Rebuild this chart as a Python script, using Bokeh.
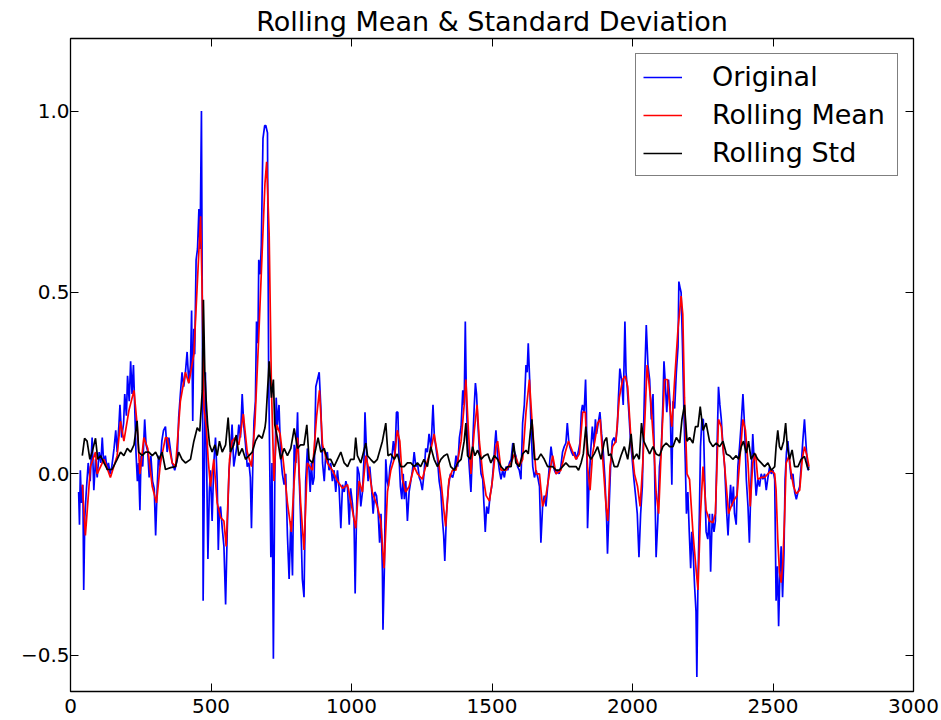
from bokeh.plotting import figure
from bokeh.models import Range1d, LinearAxis, FixedTicker, Legend, LegendItem
from bokeh.embed import file_html
from bokeh.resources import INLINE

# ---------------- data ----------------
orig_x = [29, 32, 35, 39, 44, 47, 51, 56, 63, 70, 77, 83, 89, 95, 102, 108, 113, 118, 124, 131,
          135, 141, 147, 155, 161, 166, 172, 176, 182, 189, 193, 199, 203, 209, 214, 219, 224, 228, 233, 238,
          242, 247, 251, 257, 264, 269, 275, 280, 286, 292, 298, 303, 308, 313, 319, 325, 331,
          338, 344, 350, 362, 371, 380, 385, 391, 397, 403, 409, 415, 421, 427, 431, 435, 439, 442, 447,
          452, 457, 461, 466, 470, 472, 477, 480, 485, 489, 494, 498, 504, 510, 516, 522, 526, 530, 534, 540,
          546, 552, 558, 564, 569, 575, 581, 587, 593, 599, 605, 611, 617, 623, 629, 635, 640, 644, 649, 653,
          658, 662, 667, 670, 675, 679, 685, 691,
          695, 701, 705, 713, 717, 722, 727, 732, 736, 742, 748, 754, 760, 766, 772, 778, 784, 790, 796, 802,
          808, 812, 817, 822, 825, 831, 837, 843, 849, 853, 857, 862, 867, 873, 879, 885, 891, 897, 903, 908,
          914, 920, 926, 932, 938, 944, 950, 956, 962, 968, 974, 980, 986, 992, 997, 1003, 1009, 1013,
          1021, 1027, 1033, 1039, 1045, 1048, 1053, 1059, 1065, 1071, 1077, 1083, 1089, 1095, 1100, 1105,
          1110, 1112, 1117, 1122, 1127, 1131, 1137, 1143, 1149, 1155, 1160, 1165, 1169, 1174, 1179, 1184,
          1188, 1193, 1199, 1205, 1211, 1217, 1223, 1229, 1235, 1241, 1246, 1252, 1258, 1264, 1270, 1276,
          1283, 1290, 1295, 1300, 1306, 1312, 1318, 1324, 1328, 1332, 1338, 1345, 1352,
          1360, 1366, 1372, 1378, 1384, 1390, 1396, 1401, 1405, 1409, 1413, 1419, 1425, 1431, 1437, 1441,
          1445, 1449, 1455, 1461, 1467, 1473, 1476, 1481, 1487, 1493, 1499, 1505, 1511, 1514, 1520, 1526,
          1532, 1538, 1544, 1550, 1556, 1562, 1568, 1574, 1580, 1585, 1591, 1597, 1603, 1609, 1615, 1621,
          1625, 1629, 1634, 1639, 1645, 1651, 1657, 1663, 1669, 1674, 1680, 1686,
          1692, 1698, 1704, 1710, 1716, 1722, 1728, 1734, 1739, 1745, 1751, 1757, 1763, 1768, 1773, 1777,
          1783, 1789, 1795, 1801, 1807, 1813, 1818, 1822, 1828, 1833, 1836, 1840, 1845, 1851, 1857, 1863,
          1868, 1872, 1878, 1884, 1890, 1896, 1902, 1908, 1911, 1916, 1922, 1928, 1934, 1940, 1946, 1950,
          1955, 1961, 1967, 1973, 1977, 1981, 1987, 1993, 1999, 2005, 2011, 2017, 2023, 2029,
          2035, 2040, 2044, 2049, 2055, 2061, 2067, 2073, 2078, 2084, 2090, 2096, 2102, 2108, 2112, 2116,
          2122, 2128, 2134, 2140, 2144, 2150, 2156, 2162, 2165, 2170, 2173, 2178, 2183, 2188, 2192, 2197,
          2202, 2207, 2211, 2216, 2221, 2226, 2229, 2233, 2238, 2242, 2247, 2252, 2257, 2262, 2268, 2274,
          2278, 2284, 2290, 2295, 2302, 2306, 2311, 2316, 2322, 2328, 2334, 2340, 2346, 2349, 2354, 2359,
          2363, 2369, 2375, 2381, 2387, 2393, 2399, 2405, 2411, 2416, 2422, 2428, 2434, 2440, 2446, 2452,
          2458, 2464, 2470, 2476, 2482, 2488, 2494, 2500, 2506, 2511, 2516, 2520, 2524, 2529, 2534, 2539,
          2543, 2548, 2553, 2559, 2565, 2571, 2577, 2583, 2589, 2595, 2600, 2606, 2612, 2618, 2624, 2628]
orig_y = [-0.05, -0.14, 0.01, -0.08, -0.03, -0.32, -0.12, -0.05, 0.03, -0.02, 0.10, -0.045, 0.04, -0.01, 0.06, 0.03, 0.10, 0.03, 0.05, 0.01,
          0.03, 0.00, 0.02, 0.07, 0.12, 0.06, 0.13, 0.19, 0.10, 0.14, 0.22, 0.16, 0.27, 0.20, 0.31, 0.22, 0.30, 0.20, 0.06, -0.02,
          0.03, -0.10, 0.05, 0.02, 0.15, 0.08, 0.06, -0.01, 0.05, -0.02, -0.04, -0.17, -0.05, 0.05, 0.02, 0.09, 0.12,
          0.13, 0.06, 0.10, 0.03, 0.01, 0.04, 0.155, 0.22, 0.28, 0.24, 0.28, 0.336, 0.25, 0.30, 0.45, 0.146, 0.40, 0.33, 0.59,
          0.62, 0.73, 0.62, 1.00, 0.30, -0.35, 0.05, 0.28, 0.00, -0.235, -0.05, 0.01, -0.13, 0.03, 0.10, -0.02, -0.21, -0.10, -0.09, -0.15,
          -0.20, -0.36, -0.15, 0.01, 0.05, 0.136, 0.02, 0.05, 0.08, 0.136, 0.10, 0.22, 0.13, 0.08, 0.02, 0.03, -0.01, -0.15, 0.03, 0.146,
          0.20, 0.42, 0.36, 0.59, 0.55, 0.63, 0.925, 0.96,
          0.96, 0.94, 0.29, -0.23, 0.03, -0.51, -0.02, 0.21, 0.135, 0.19, 0.05, 0.0, -0.03, 0.0, -0.17, -0.29, -0.13, -0.28, 0.08, 0.03,
          0.17, 0.03, -0.08, -0.20, -0.29, -0.34, -0.02, 0.07, 0.01, -0.05, 0.03, -0.03, -0.01, 0.24, 0.26, 0.28, 0.18, 0.03, -0.02, 0.05,
          0.06, 0.01, 0.03, -0.02, 0.01, -0.05, 0.01, -0.04, -0.15, -0.03, -0.05, -0.02, -0.04, -0.14, -0.04, -0.08, -0.13, -0.33,
          0.02, 0.0, -0.09, -0.05, 0.05, 0.17, 0.07, -0.02, 0.02, -0.035, -0.11, -0.05, -0.06, -0.11, -0.19, -0.11,
          -0.27, -0.43, -0.26, 0.04, -0.02, -0.035, 0.02, 0.04, 0.09, 0.05, 0.17, 0.17, 0.05, -0.035, -0.07, 0.0,
          -0.07, -0.02, -0.13, -0.05, -0.02, 0.01, 0.06, 0.02, 0.03, -0.01, -0.02, -0.045, 0.0, 0.07, 0.06, 0.11,
          0.07, 0.19, 0.10, 0.075, 0.04, -0.02, -0.05, -0.13, -0.17, -0.24, -0.11, -0.035, 0.0,
          -0.01, 0.01, 0.05, 0.02, 0.10, 0.13, 0.23, 0.19, 0.42, 0.20, 0.09, 0.02, -0.05, 0.075, 0.19, 0.25,
          0.22, 0.15, 0.065, 0.0, -0.015, -0.11, -0.16, -0.09, -0.11, -0.06, -0.035, 0.02, 0.09, 0.12, 0.05, 0.01,
          -0.015, 0.01, -0.01, 0.02, 0.01, 0.03, 0.04, 0.085, 0.06, 0.05, 0.02, 0.01, -0.015, 0.14, 0.19, 0.30,
          0.28, 0.36, 0.26, 0.12, 0.02, -0.01, 0.01, -0.01, -0.035, -0.19, -0.09, -0.06,
          -0.09, -0.035, 0.02, 0.075, 0.04, 0.01, 0.0, 0.01, 0.0, 0.02, 0.06, 0.075, 0.085, 0.14, 0.09, 0.075,
          0.06, 0.05, 0.06, 0.04, 0.06, 0.085, 0.17, 0.19, 0.17, 0.26, 0.17, -0.15, -0.035, 0.06, 0.13, 0.075,
          0.15, 0.11, 0.14, 0.17, 0.11, 0.06, -0.015, -0.13, -0.22, -0.11, 0.02, 0.09, 0.10, 0.085, 0.13, 0.21,
          0.29, 0.26, 0.19, 0.42, 0.28, 0.24, 0.17, 0.09, 0.04, -0.015, -0.06, -0.11, -0.23, -0.11,
          -0.035, 0.14, 0.28, 0.41, 0.30, 0.26, 0.15, 0.22, 0.04, -0.23, -0.13, 0.02, 0.06, 0.19, 0.31, 0.26,
          0.17, 0.26, 0.19, -0.03, 0.20, 0.18, 0.28, 0.35, 0.53, 0.51, 0.50, 0.35, 0.17, 0.03, -0.11, -0.05,
          -0.16, -0.26, -0.16, -0.22, -0.31, -0.38, -0.56, -0.29, -0.11, 0.075, 0.15, 0.15, -0.015, -0.16, -0.18, -0.11,
          -0.27, -0.11, -0.16, -0.13, 0.11, 0.24, 0.19, 0.15, 0.075, 0.02, -0.09, -0.17, -0.07, -0.03, -0.09, -0.035,
          -0.11, -0.14, 0.02, 0.075, 0.14, 0.22, 0.13, -0.015, -0.09, -0.19, -0.015, 0.11, 0.02, -0.06, -0.015, -0.035,
          0.0, -0.015, 0.0, -0.045, -0.01, 0.02, 0.0, 0.01, -0.015, -0.35, -0.255, -0.42, -0.29, -0.20, -0.34, -0.22,
          -0.015, 0.06, 0.09, 0.03, -0.015, 0.0, -0.05, -0.07, -0.05, -0.035, 0.02, 0.09, 0.15, 0.075, 0.01, 0.02]

mean_x = [42, 53, 71, 89, 95, 119, 142, 166, 178, 190, 208, 226, 237, 247, 261, 275, 291, 306, 320, 338,
          344, 362, 374, 391, 409, 421, 439, 451, 463, 469, 475, 483, 490, 498, 510, 522, 534, 546, 554, 566,
          575, 587, 599, 615, 629, 644, 656, 670, 682, 692, 698, 707, 715, 724, 734, 746, 758, 772, 786, 796,
          808, 819, 831, 843, 861, 876, 886, 897, 914, 932, 950, 968, 986, 1003, 1015, 1027, 1039, 1051, 1062, 1074,
          1092, 1104, 1116, 1128, 1140, 1152, 1163, 1172, 1181, 1193, 1205, 1223, 1235, 1252, 1264, 1282, 1294, 1306, 1318, 1330,
          1335, 1347, 1359, 1372, 1390, 1401, 1407, 1416, 1425, 1437, 1447, 1455, 1467, 1479, 1491, 1502, 1514, 1520, 1532, 1550,
          1568, 1580, 1597, 1609, 1621, 1633, 1642, 1657, 1669, 1680, 1692, 1704, 1716, 1728, 1745, 1761, 1772, 1785, 1799, 1811,
          1823, 1832, 1840, 1849, 1858, 1868, 1876, 1885, 1896, 1906, 1912, 1920, 1929, 1941, 1953, 1965, 1974, 1983, 1995, 2007,
          2018, 2027, 2036, 2044, 2052, 2064, 2076, 2084, 2093, 2102, 2114, 2124, 2132, 2140, 2150, 2162, 2173, 2179, 2185, 2194,
          2203, 2215, 2227, 2233, 2242, 2251, 2262, 2274, 2286, 2295, 2306, 2316, 2328, 2342, 2351, 2363, 2372, 2381, 2393, 2402,
          2411, 2419, 2428, 2438, 2446, 2458, 2470, 2482, 2494, 2506, 2511, 2517, 2523, 2529, 2535, 2541, 2547, 2557, 2565, 2573,
          2583, 2595, 2604, 2612, 2621, 2628]
mean_y = [-0.03, -0.17, 0.02, 0.06, 0.0, 0.04, -0.01, 0.05, 0.145, 0.09, 0.175, 0.23, 0.136, 0.0, 0.10, 0.07, -0.035, -0.08, 0.03, 0.10,
          0.10, 0.03, 0.02, 0.20, 0.28, 0.25, 0.33, 0.52, 0.71, 0.48, 0.18, 0.13, 0.04, -0.035, 0.04, -0.08, -0.12, -0.13, -0.20, 0.04,
          0.09, 0.10, 0.08, 0.165, 0.06, 0.02, 0.136, 0.38, 0.61, 0.80, 0.86, 0.66, 0.24, -0.02, 0.135, 0.11, 0.03, -0.08, -0.16, -0.02,
          0.10, -0.08, -0.21, 0.03, 0.01, 0.16, 0.23, 0.08, 0.03, 0.01, -0.02, -0.04, -0.03, -0.10, -0.15, -0.02, -0.05, 0.05, 0.01, -0.05,
          -0.09, -0.13, -0.26, -0.05, 0.01, 0.04, 0.12, 0.09, -0.015, -0.05, -0.035, 0.02, 0.0, -0.015, 0.02, 0.065, 0.11, 0.055, -0.015, -0.11,
          -0.145, -0.015, 0.01, 0.01, 0.09, 0.19, 0.26, 0.12, 0.0, 0.12, 0.19, 0.09, 0.0, -0.06, -0.075, -0.015, 0.075, 0.09, 0.01, 0.01,
          0.03, 0.055, 0.02, 0.04, 0.17, 0.26, 0.15, 0.0, 0.0, -0.09, -0.06, 0.0, 0.05, 0.0, 0.01, 0.06, 0.09, 0.065, 0.04, 0.055,
          0.17, 0.17, 0.02, -0.045, 0.055, 0.10, 0.14, 0.15, 0.02, -0.09, -0.13, 0.02, 0.075, 0.09, 0.21, 0.26, 0.27, 0.24, 0.09, 0.0,
          -0.035, -0.09, 0.02, 0.15, 0.30, 0.21, 0.075, -0.05, -0.11, 0.06, 0.26, 0.26, 0.19, 0.13, 0.26, 0.40, 0.49, 0.44, 0.21, 0.0,
          -0.015, -0.16, -0.27, -0.32, -0.11, 0.02, -0.10, -0.13, -0.135, -0.11, 0.15, 0.13, 0.02, -0.11, -0.09, -0.07, -0.06, 0.03, 0.15, 0.12,
          0.03, -0.09, 0.03, 0.055, -0.015, -0.01, -0.01, 0.0, 0.01, 0.0, -0.045, -0.18, -0.27, -0.30, -0.245, -0.125, 0.03, 0.05, 0.0, -0.035,
          -0.055, -0.045, 0.04, 0.075, 0.05, 0.02]

std_x = [42, 50, 59, 69, 77, 89, 97, 107, 119, 131, 148, 166, 178, 190, 202, 214, 226, 237, 243, 255,
         267, 279, 291, 303, 315, 326, 338, 356, 374, 385, 397, 409, 427, 439, 451, 460, 469, 473, 478, 483,
         488, 495, 504, 514, 522, 530, 540, 552, 561, 569, 581, 590, 599, 611, 623, 635, 647, 658, 670, 682,
         692, 695, 707, 715, 722, 727, 736, 748, 760, 772, 784, 796, 808, 819, 831, 841, 849, 861, 873, 881,
         891, 903, 914, 926, 938, 950, 962, 974, 986, 997, 1009, 1015, 1021, 1033, 1051, 1057, 1068, 1080, 1092, 1110,
         1122, 1130, 1140, 1152, 1163, 1175, 1187, 1199, 1211, 1223, 1235, 1246, 1258, 1270, 1282, 1294, 1306, 1318, 1330, 1341,
         1353, 1366, 1378, 1390, 1401, 1407, 1413, 1423, 1431, 1439, 1449, 1461, 1473, 1485, 1496, 1508, 1520, 1532, 1544, 1556,
         1568, 1577, 1585, 1597, 1609, 1621, 1629, 1637, 1642, 1651, 1663, 1674, 1686, 1698, 1708, 1716, 1728, 1739, 1751, 1763,
         1775, 1787, 1799, 1808, 1817, 1825, 1834, 1842, 1852, 1864, 1876, 1888, 1900, 1908, 1915, 1923, 1935, 1947, 1959, 1971,
         1983, 1995, 2003, 2015, 2024, 2032, 2040, 2049, 2061, 2073, 2084, 2096, 2108, 2120, 2132, 2144, 2156, 2168, 2176, 2185,
         2194, 2203, 2215, 2224, 2233, 2241, 2251, 2262, 2274, 2286, 2298, 2310, 2322, 2334, 2346, 2357, 2369, 2378, 2387, 2395,
         2405, 2413, 2422, 2434, 2446, 2458, 2470, 2482, 2494, 2506, 2511, 2517, 2523, 2529, 2538, 2545, 2551, 2559, 2568, 2577,
         2589, 2600, 2612, 2622, 2628]
std_y = [0.05, 0.098, 0.09, 0.04, 0.06, 0.098, 0.04, 0.05, 0.03, 0.012, 0.012, 0.04, 0.06, 0.05, 0.07, 0.06, 0.08, 0.146, 0.06, 0.05,
         0.06, 0.06, 0.05, 0.06, 0.04, 0.06, 0.012, 0.017, 0.02, 0.06, 0.04, 0.03, 0.04, 0.09, 0.127, 0.117, 0.23, 0.48, 0.28, 0.20,
         0.136, 0.08, 0.06, 0.08, 0.05, 0.09, 0.06, 0.08, 0.155, 0.06, 0.08, 0.107, 0.05, 0.07, 0.04, 0.05, 0.06, 0.09, 0.107, 0.098,
         0.127, 0.146, 0.31, 0.21, 0.26, 0.135, 0.10, 0.04, 0.07, 0.05, 0.07, 0.125, 0.07, 0.08, 0.08, 0.135, 0.04, 0.03, 0.07, 0.10,
         0.06, 0.07, 0.04, 0.04, 0.02, 0.04, 0.06, 0.03, 0.02, 0.04, 0.04, 0.10, 0.05, 0.03, 0.085, 0.05, 0.04, 0.03, 0.04, 0.09,
         0.14, 0.05, 0.055, 0.04, 0.055, 0.02, 0.02, 0.03, 0.03, 0.02, 0.03, 0.02, 0.04, 0.02, 0.075, 0.04, 0.02, 0.04, 0.05, 0.055,
         0.02, 0.01, 0.03, 0.04, 0.09, 0.14, 0.05, 0.04, 0.075, 0.05, 0.065, 0.04, 0.05, 0.055, 0.03, 0.05, 0.04, 0.02, 0.01, 0.02,
         0.02, 0.085, 0.03, 0.02, 0.055, 0.065, 0.055, 0.12, 0.15, 0.04, 0.04, 0.055, 0.04, 0.02, 0.02, 0.02, 0.01, 0.01, 0.02, 0.03,
         0.02, 0.02, 0.02, 0.01, 0.03, 0.055, 0.13, 0.055, 0.04, 0.055, 0.075, 0.04, 0.09, 0.10, 0.05, 0.055, 0.02, 0.02, 0.05, 0.075,
         0.04, 0.11, 0.04, 0.055, 0.04, 0.14, 0.09, 0.075, 0.055, 0.075, 0.055, 0.05, 0.075, 0.085, 0.075, 0.075, 0.10, 0.085, 0.15, 0.19,
         0.09, 0.10, 0.085, 0.13, 0.13, 0.185, 0.12, 0.14, 0.09, 0.075, 0.085, 0.075, 0.09, 0.055, 0.05, 0.04, 0.05, 0.04, 0.075, 0.09,
         0.057, 0.09, 0.04, 0.057, 0.04, 0.03, 0.02, 0.03, 0.01, 0.02, 0.075, 0.12, 0.075, 0.066, 0.09, 0.14, 0.075, 0.04, 0.066, 0.02,
         0.02, 0.04, 0.048, 0.02, 0.01]

x_ticks = [0, 500, 1000, 1500, 2000, 2500, 3000]
y_ticks = [-0.5, 0.0, 0.5, 1.0]
y_tick_labels = ["\u22120.5", "0.0", "0.5", "1.0"]
series_names = ["Original", "Rolling Mean", "Rolling Std"]
title_text = "Rolling Mean & Standard Deviation"

# ---------------- figure ----------------
FONT = "DejaVu Sans"
p = figure(width=941, height=720, output_backend="svg", toolbar_location=None,
           x_range=Range1d(0, 3000), y_range=Range1d(-0.6, 1.2),
           min_border_left=70, min_border_right=28, min_border_top=38, min_border_bottom=29,
           x_axis_type=None, y_axis_type=None)
p.title.text = title_text
p.title.align = "center"
p.title.text_font = FONT
p.title.text_font_size = "27px"
p.title.text_font_style = "normal"
p.title.text_color = "black"
p.title.standoff = 4
p.xgrid.visible = False
p.ygrid.visible = False
p.outline_line_color = "black"
p.outline_line_width = 1.3
p.background_fill_color = "white"
p.border_fill_color = "white"

def make_axis(ticks, show_labels, standoff=0, overrides=None):
    ax = LinearAxis(ticker=FixedTicker(ticks=ticks))
    ax.axis_line_color = None
    ax.major_tick_in = 8
    ax.major_tick_out = 0
    ax.major_tick_line_color = "black"
    ax.major_tick_line_width = 1
    ax.minor_tick_line_color = None
    ax.major_label_text_font = FONT
    if show_labels:
        ax.major_label_text_color = "black"
        ax.major_label_text_font_size = "20px"
        ax.major_label_standoff = standoff
        if overrides:
            ax.major_label_overrides = overrides
    else:
        ax.major_label_text_color = None
        ax.major_label_text_font_size = "0px"
        ax.major_label_standoff = 0
    return ax

p.add_layout(make_axis(x_ticks, True, standoff=7), "below")
p.add_layout(make_axis(y_ticks, True, standoff=1,
                       overrides={t: s for t, s in zip(y_ticks, y_tick_labels)}), "left")
p.add_layout(make_axis(x_ticks, False), "above")
p.add_layout(make_axis(y_ticks, False), "right")

r1 = p.line(orig_x, orig_y, line_color="#0000ff", line_width=1.7)
r2 = p.line(mean_x, mean_y, line_color="#ff0000", line_width=1.7)
r3 = p.line(std_x, std_y, line_color="#000000", line_width=1.7)

legend = Legend(items=[LegendItem(label=series_names[0], renderers=[r1]),
                       LegendItem(label=series_names[1], renderers=[r2]),
                       LegendItem(label=series_names[2], renderers=[r3])],
                location="top_right")
legend.label_text_font = FONT
legend.label_text_font_size = "27px"
legend.label_text_color = "black"
legend.glyph_width = 39
legend.glyph_height = 26
legend.label_height = 26
legend.label_width = 178
legend.label_standoff = 30
legend.spacing = 7
legend.padding = 7
legend.margin = 15
legend.border_line_color = "black"
legend.border_line_width = 1.3
legend.background_fill_color = "white"
legend.background_fill_alpha = 1.0
p.add_layout(legend, "center")

open("out.html", "w").write(file_html(p, INLINE))
